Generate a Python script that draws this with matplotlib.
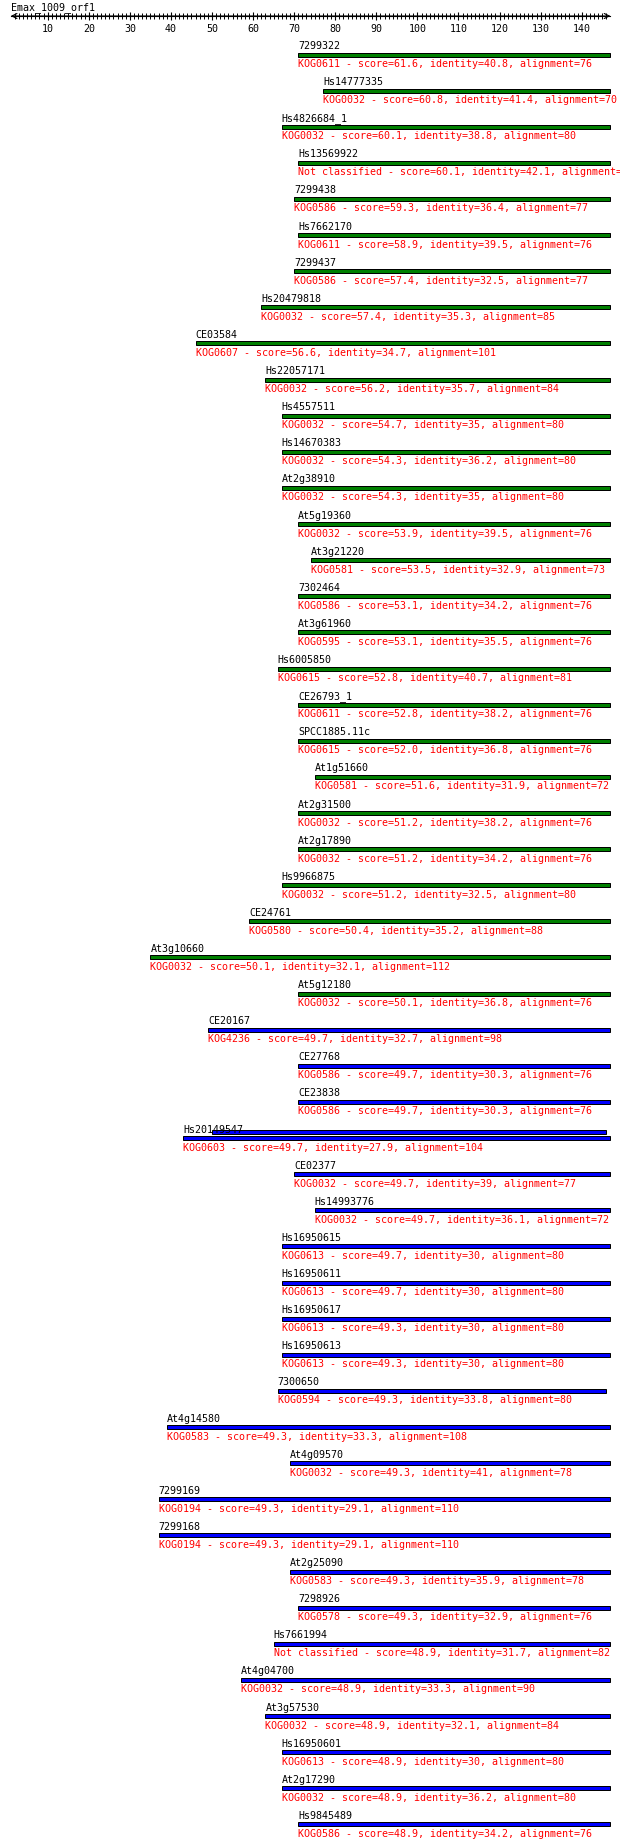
import numpy as np
import matplotlib
matplotlib.use("Agg")
import matplotlib.pyplot as plt
from matplotlib.transforms import offset_copy

# query and hits
query = "Emax_1009_orf1"
query_len = 147

names = ["7299322", "Hs14777335", "Hs4826684_1", "Hs13569922", "7299438",
         "Hs7662170", "7299437", "Hs20479818", "CE03584", "Hs22057171",
         "Hs4557511", "Hs14670383", "At2g38910", "At5g19360", "At3g21220",
         "7302464", "At3g61960", "Hs6005850", "CE26793_1", "SPCC1885.11c",
         "At1g51660", "At2g31500", "At2g17890", "Hs9966875", "CE24761",
         "At3g10660", "At5g12180", "CE20167", "CE27768", "CE23838",
         "Hs20149547", "CE02377", "Hs14993776", "Hs16950615", "Hs16950611",
         "Hs16950617", "Hs16950613", "7300650", "At4g14580", "At4g09570",
         "7299169", "7299168", "At2g25090", "7298926", "Hs7661994",
         "At4g04700", "At3g57530", "Hs16950601", "At2g17290", "Hs9845489"]
kogs = ["KOG0611", "KOG0032", "KOG0032", "Not classified", "KOG0586",
        "KOG0611", "KOG0586", "KOG0032", "KOG0607", "KOG0032",
        "KOG0032", "KOG0032", "KOG0032", "KOG0032", "KOG0581",
        "KOG0586", "KOG0595", "KOG0615", "KOG0611", "KOG0615",
        "KOG0581", "KOG0032", "KOG0032", "KOG0032", "KOG0580",
        "KOG0032", "KOG0032", "KOG4236", "KOG0586", "KOG0586",
        "KOG0603", "KOG0032", "KOG0032", "KOG0613", "KOG0613",
        "KOG0613", "KOG0613", "KOG0594", "KOG0583", "KOG0032",
        "KOG0194", "KOG0194", "KOG0583", "KOG0578", "Not classified",
        "KOG0032", "KOG0032", "KOG0613", "KOG0032", "KOG0586"]
scores = [61.6, 60.8, 60.1, 60.1, 59.3, 58.9, 57.4, 57.4, 56.6, 56.2,
          54.7, 54.3, 54.3, 53.9, 53.5, 53.1, 53.1, 52.8, 52.8, 52.0,
          51.6, 51.2, 51.2, 51.2, 50.4, 50.1, 50.1, 49.7, 49.7, 49.7,
          49.7, 49.7, 49.7, 49.7, 49.7, 49.3, 49.3, 49.3, 49.3, 49.3,
          49.3, 49.3, 49.3, 49.3, 48.9, 48.9, 48.9, 48.9, 48.9, 48.9]
identities = [40.8, 41.4, 38.8, 42.1, 36.4, 39.5, 32.5, 35.3, 34.7, 35.7,
              35, 36.2, 35, 39.5, 32.9, 34.2, 35.5, 40.7, 38.2, 36.8,
              31.9, 38.2, 34.2, 32.5, 35.2, 32.1, 36.8, 32.7, 30.3, 30.3,
              27.9, 39, 36.1, 30, 30, 30, 30, 33.8, 33.3, 41,
              29.1, 29.1, 35.9, 32.9, 31.7, 33.3, 32.1, 30, 36.2, 34.2]
alignments = [76, 70, 80, 76, 77, 76, 77, 85, 101, 84,
              80, 80, 80, 76, 73, 76, 76, 81, 76, 76,
              72, 76, 76, 80, 88, 112, 76, 98, 76, 76,
              104, 77, 72, 80, 80, 80, 80, 80, 108, 78,
              110, 110, 78, 76, 82, 90, 84, 80, 80, 76]
starts = [71, 77, 67, 71, 70, 71, 70, 62, 46, 63,
          67, 67, 67, 71, 74, 71, 71, 66, 71, 71,
          75, 71, 71, 67, 59, 35, 71, 49, 71, 71,
          43, 70, 75, 67, 67, 67, 67, 66, 39, 69,
          37, 37, 69, 71, 65, 57, 63, 67, 67, 71]
ends = [147, 147, 147, 147, 147, 147, 147, 147, 147, 147,
        147, 147, 147, 147, 147, 147, 147, 147, 147, 147,
        147, 147, 147, 147, 147, 147, 147, 147, 147, 147,
        147, 147, 147, 147, 147, 147, 147, 146, 147, 147,
        147, 147, 147, 147, 147, 147, 147, 147, 147, 147]
# second HSP drawn just above the Hs20149547 bar
extra_row = 30
extra_start, extra_end = 50, 146

W, H = 620, 1847
x0_px, px_per_unit = 6.6, 4.108
row0_px, row_px = 54.5, 36.12
mono = "DejaVu Sans Mono"
fs = 7.2

fig = plt.figure(figsize=(W / 100, H / 100), dpi=100)
ax = fig.add_axes([0, 0, 1, 1])
ax.set_xlim(-x0_px / px_per_unit, (W - x0_px) / px_per_unit)
ax.set_ylim((H - row0_px) / row_px, -row0_px / row_px)
ax.axis("off")

rows = np.arange(len(names))
colors = ["#008000" if s >= 50 else "#0000ff" for s in scores]
bar_h = 4.0 / row_px
ax.barh(rows, np.array(ends) - np.array(starts), left=starts, height=bar_h,
        color=colors, edgecolor="black", linewidth=0.72)
ax.barh([extra_row - 6.0 / row_px], [extra_end - extra_start], left=[extra_start],
        height=bar_h, color="#0000ff", edgecolor="black", linewidth=0.72)

name_tr = offset_copy(ax.transData, fig=fig, x=0, y=5.5, units="dots")
info_tr = offset_copy(ax.transData, fig=fig, x=0, y=-12.5, units="dots")
for i in rows:
    ax.text(starts[i], i, names[i], transform=name_tr, family=mono,
            fontsize=fs, color="black", va="baseline", ha="left")
    label = "%s - score=%.1f, identity=%g, alignment=%d" % (
        kogs[i], scores[i], identities[i], alignments[i])
    ax.text(starts[i], i, label, transform=info_tr, family=mono,
            fontsize=fs, color="red", va="baseline", ha="left")

# ruler
axis_y = 16
rax = fig.add_axes([0, 1 - axis_y / H, 1, 1e-6])
rax.set_xlim(ax.get_xlim())
rax.set_yticks([])
for s in ["top", "left", "right"]:
    rax.spines[s].set_visible(False)
rax.spines["bottom"].set_bounds(1, query_len)
rax.spines["bottom"].set_linewidth(0.8)
rax.set_xticks(np.arange(10, query_len, 10))
rax.set_xticks(np.arange(2, query_len), minor=True)
rax.tick_params(axis="x", which="major", direction="inout", length=6,
                width=0.8, pad=2.5, labelsize=fs)
rax.tick_params(axis="x", which="minor", direction="inout", length=4, width=0.7)
for t in rax.get_xticklabels():
    t.set_family(mono)
rax.annotate("", xy=(query_len, 0), xytext=(1, 0),
             arrowprops=dict(arrowstyle="<->", lw=0.8, mutation_scale=9,
                             shrinkA=0, shrinkB=0), annotation_clip=False)
fig.text(11 / W, 1 - 10 / H, query, family=mono, fontsize=fs,
         va="baseline", ha="left")

fig.savefig("out.png", dpi=100)
